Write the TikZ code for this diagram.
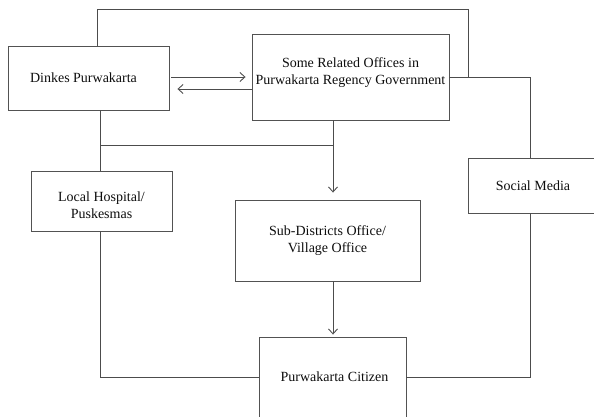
\documentclass[tikz,border=0pt]{standalone}
\usepackage{fontspec}
\setmainfont{Liberation Serif}
\usetikzlibrary{arrows.meta,calc}
\begin{document}
\begin{tikzpicture}[x=1pt,y=-1pt,
  box/.style={draw=black!68, line width=0.9pt, rectangle, inner sep=0pt},
  txt/.style={align=center, text=black!95, font=\fontsize{14}{16.5}\selectfont},
  conn/.style={draw=black!70, line width=0.9pt},
  arr/.style={conn, -{Straight Barb[length=5pt,width=9pt]}}]
\useasboundingbox (0,0) rectangle (594,416);
\clip (0,0) rectangle (594,416);
% boxes
\node[box, minimum width=161pt, minimum height=64pt,
  label={[txt, name=dinkesT, xshift=-5pt]center:Dinkes Purwakarta}] (dinkes) at (88.5,78) {};
\node[box, minimum width=197pt, minimum height=86pt,
  label={[txt, name=relatedT, yshift=4.5pt]center:{Some Related Offices in\\Purwakarta Regency Government}}] (related) at (350.5,77) {};
\node[box, minimum width=141pt, minimum height=60pt,
  label={[txt, name=localT, yshift=-4pt]center:{Local Hospital/\\Puskesmas}}] (local) at (101.5,201) {};
\node[box, minimum width=185pt, minimum height=81pt,
  label={[txt, name=subT]center:{Sub-Districts Office/\\Village Office}}] (sub) at (327.5,240.5) {};
\node[box, minimum width=130pt, minimum height=55pt,
  label={[txt, name=socialT]center:Social Media}] (social) at (533,185.5) {};
\node[box, minimum width=147pt, minimum height=80pt,
  label={[txt, name=citizenT, xshift=2pt]center:Purwakarta Citizen}] (citizen) at (332.5,377) {};
% helper coordinates
\coordinate (loopL) at (97,9);
\coordinate (loopR) at (468,9);
\coordinate (jn) at (468,77);
\coordinate (smx) at (530,77);
\coordinate (dx) at (100,145);
\coordinate (rx) at (333,145);
% connectors
\draw[conn] (dinkes.north -| loopL) -- (loopL) -- (loopR) -- (jn);
\draw[conn] (related.east) -- (smx) -- (smx |- social.north);
\draw[arr, shorten <=2pt, shorten >=6pt] (dinkes.east |- related.west) -- (related.west);
\draw[arr, shorten >=8pt] ([yshift=-12pt]related.west) -- ([yshift=-12pt]related.west -| dinkes.east);
\draw[conn] (dinkes.south -| dx) -- (local.north -| dx);
\draw[conn] (dx) -- (rx);
\draw[arr, shorten >=7pt] (related.south -| rx) -- (sub.north -| rx);
\draw[arr, shorten >=2pt] (sub.south -| rx) -- (citizen.north -| rx);
\draw[conn] (local.south -| dx) -- (dx |- citizen.west) -- (citizen.west);
\draw[conn] (social.south -| smx) -- (smx |- citizen.east) -- (citizen.east);
\end{tikzpicture}
\end{document}
